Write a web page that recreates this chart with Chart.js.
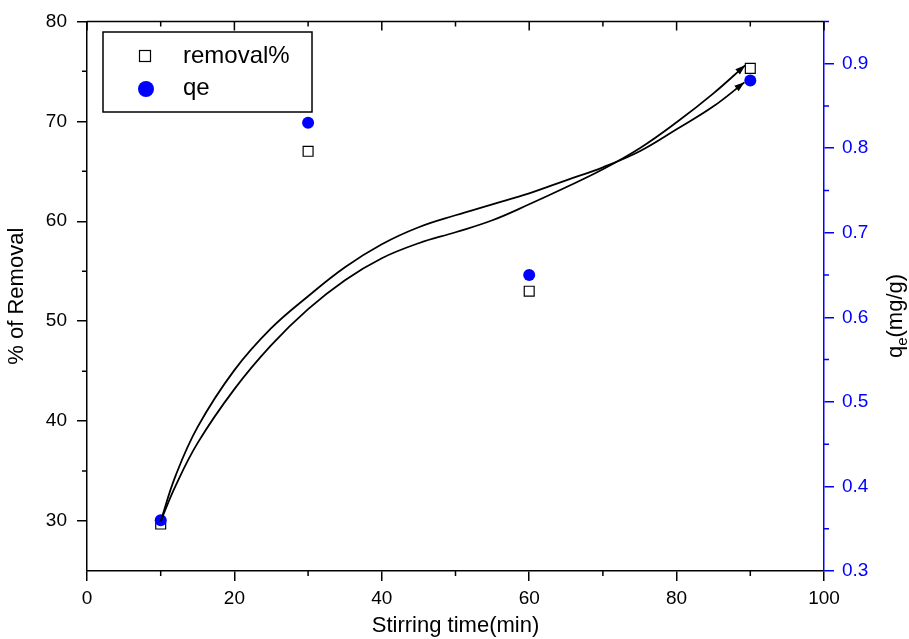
<!DOCTYPE html>
<html>
<head>
<meta charset="utf-8">
<script src="https://cdn.jsdelivr.net/npm/chart.js@4.4.1/dist/chart.umd.min.js"></script>
<style>
  html, body { margin: 0; padding: 0; background: #fff; }
</style>
</head>
<body>
<canvas id="chart" width="909" height="639"></canvas>
<script>
// measured points
const times = [10, 30, 60, 90];
const removal = [29.7, 67, 53, 75.3];
const qe = [0.36, 0.83, 0.65, 0.88];

// the two hand drawn arrows (left axis units)
const arrowToQeX = [10, 12, 15, 20, 25, 30, 35, 40, 45, 50, 55, 60, 65, 70, 75, 80, 85, 89.2];
const arrowToQeY = [30, 34.5, 39.4, 45.1, 49.3, 52.5, 55.4, 57.7, 59.4, 60.6, 61.7, 62.8, 64.1, 65.4, 67.0, 69.2, 71.5, 73.9];
const arrowToRemX = [10, 12, 15, 20, 25, 30, 35, 40, 45, 50, 55, 60, 65, 70, 75, 80, 85, 89.3];
const arrowToRemY = [30, 33.5, 37.8, 43.2, 47.6, 51.2, 54.1, 56.3, 57.8, 58.9, 60.1, 61.7, 63.4, 65.2, 67.3, 69.9, 72.8, 75.6];

const xTicks = [0, 20, 40, 60, 80, 100];
const xMinor = [10, 30, 50, 70, 90];
const leftTicks = [30, 40, 50, 60, 70, 80];
const leftMinor = [35, 45, 55, 65, 75];
const rightTicks = [0.3, 0.4, 0.5, 0.6, 0.7, 0.8, 0.9];
const rightMinor = [0.35, 0.45, 0.55, 0.65, 0.75, 0.85, 0.95];

const FONT = '"Liberation Sans", Arial, sans-serif';
const BLUE = '#0000ff';

function toPoints(xs, ys) {
    return xs.map((x, i) => ({ x: x, y: ys[i] }));
}

// minor ticks, top axis, arrow heads, legend and right title
const extrasPlugin = {
    id: 'extras',
    afterDraw(chart) {
        const ctx = chart.ctx;
        const ca = chart.chartArea;
        const sx = chart.scales.x, sy = chart.scales.y, sr = chart.scales.y1;
        ctx.save();
        ctx.lineWidth = 1.5;
        ctx.strokeStyle = '#000';

        // top axis line with inward ticks
        ctx.beginPath();
        ctx.moveTo(ca.left, ca.top);
        ctx.lineTo(ca.right, ca.top);
        xTicks.forEach(v => {
            const px = sx.getPixelForValue(v);
            ctx.moveTo(px, ca.top); ctx.lineTo(px, ca.top + 9);
        });
        xMinor.forEach(v => {
            const px = sx.getPixelForValue(v);
            ctx.moveTo(px, ca.top); ctx.lineTo(px, ca.top + 5);
            // bottom minor, outward
            ctx.moveTo(px, ca.bottom); ctx.lineTo(px, ca.bottom + 5);
        });
        leftMinor.forEach(v => {
            const py = sy.getPixelForValue(v);
            ctx.moveTo(ca.left, py); ctx.lineTo(ca.left - 5, py);
        });
        ctx.stroke();

        ctx.strokeStyle = BLUE;
        ctx.beginPath();
        rightMinor.forEach(v => {
            const py = sr.getPixelForValue(v);
            ctx.moveTo(ca.right, py); ctx.lineTo(ca.right + 5, py);
        });
        ctx.stroke();

        // arrow heads at the end of each curve
        ctx.fillStyle = '#000';
        [[arrowToQeX, arrowToQeY], [arrowToRemX, arrowToRemY]].forEach(([xs, ys]) => {
            const n = xs.length;
            const x1 = sx.getPixelForValue(xs[n - 1]), y1 = sy.getPixelForValue(ys[n - 1]);
            const x0 = sx.getPixelForValue(xs[n - 2]), y0 = sy.getPixelForValue(ys[n - 2]);
            const a = Math.atan2(y1 - y0, x1 - x0);
            const len = 10, w = 3.5;
            ctx.beginPath();
            ctx.moveTo(x1, y1);
            ctx.lineTo(x1 - len * Math.cos(a) + w * Math.sin(a), y1 - len * Math.sin(a) - w * Math.cos(a));
            ctx.lineTo(x1 - len * Math.cos(a) - w * Math.sin(a), y1 - len * Math.sin(a) + w * Math.cos(a));
            ctx.closePath();
            ctx.fill();
        });

        // legend
        ctx.strokeStyle = '#000';
        ctx.lineWidth = 1.5;
        ctx.fillStyle = '#fff';
        ctx.fillRect(103, 32, 209, 80);
        ctx.strokeRect(103, 32, 209, 80);
        ctx.lineWidth = 1.2;
        ctx.strokeRect(139.5, 50.5, 11, 11);
        ctx.fillStyle = BLUE;
        ctx.beginPath();
        ctx.arc(146, 89, 8, 0, Math.PI * 2);
        ctx.fill();
        ctx.fillStyle = '#000';
        ctx.font = '24px ' + FONT;
        ctx.textBaseline = 'middle';
        ctx.textAlign = 'left';
        ctx.fillText('removal%', 183, 56);
        ctx.fillText('qe', 183, 88);

        // right axis title q_e(mg/g)
        ctx.translate(895, 316);
        ctx.rotate(-Math.PI / 2);
        ctx.font = '22px ' + FONT;
        const wq = ctx.measureText('q').width;
        ctx.font = '15px ' + FONT;
        const we = ctx.measureText('e').width;
        ctx.font = '22px ' + FONT;
        const wr = ctx.measureText('(mg/g)').width;
        let x = -(wq + we + wr) / 2;
        ctx.textBaseline = 'alphabetic';
        ctx.fillText('q', x, 7);
        x += wq;
        ctx.font = '15px ' + FONT;
        ctx.fillText('e', x, 12);
        x += we;
        ctx.font = '22px ' + FONT;
        ctx.fillText('(mg/g)', x, 7);
        ctx.restore();
    }
};

function fixTicks(list) {
    return function(scale) {
        scale.ticks = list.map(v => ({ value: v }));
    };
}

new Chart(document.getElementById('chart'), {
    type: 'scatter',
    data: {
        datasets: [
            {
                label: 'arrow qe',
                type: 'line',
                data: toPoints(arrowToQeX, arrowToQeY),
                yAxisID: 'y',
                borderColor: '#000',
                borderWidth: 1.8,
                pointRadius: 0,
                tension: 0.4,
                fill: false,
                order: 0
            },
            {
                label: 'arrow removal',
                type: 'line',
                data: toPoints(arrowToRemX, arrowToRemY),
                yAxisID: 'y',
                borderColor: '#000',
                borderWidth: 1.8,
                pointRadius: 0,
                tension: 0.4,
                fill: false,
                order: 0
            },
            {
                label: 'qe',
                data: toPoints(times, qe),
                yAxisID: 'y1',
                pointStyle: 'circle',
                pointRadius: 6,
                backgroundColor: BLUE,
                borderColor: BLUE,
                borderWidth: 0,
                order: 1
            },
            {
                label: 'removal%',
                data: toPoints(times, removal),
                yAxisID: 'y',
                pointStyle: 'rect',
                pointRadius: 7,
                backgroundColor: '#fff',
                borderColor: '#000',
                borderWidth: 1.2,
                order: 2
            }
        ]
    },
    options: {
        responsive: false,
        animation: false,
        devicePixelRatio: 1,
        layout: { padding: { top: 20, bottom: 0, left: 0, right: 0 } },
        plugins: {
            legend: { display: false },
            tooltip: { enabled: false }
        },
        scales: {
            x: {
                type: 'linear',
                min: 0, max: 100,
                afterBuildTicks: fixTicks(xTicks),
                afterFit(scale) { scale.height = 68; },
                border: { color: '#000', width: 1.5 },
                grid: { drawOnChartArea: false, tickLength: 10, color: '#000', lineWidth: 1.5 },
                ticks: { color: '#000', font: { family: FONT, size: 19 }, padding: 6, maxRotation: 0 },
                title: { display: true, text: 'Stirring time(min)', color: '#000', font: { family: FONT, size: 22 }, padding: 0 }
            },
            y: {
                type: 'linear',
                position: 'left',
                min: 25, max: 80,
                afterBuildTicks: fixTicks(leftTicks),
                afterFit(scale) { scale.width = 87; },
                border: { color: '#000', width: 1.5 },
                grid: { drawOnChartArea: false, tickLength: 10, color: '#000', lineWidth: 1.5 },
                ticks: { color: '#000', font: { family: FONT, size: 19 }, padding: 10 },
                title: { display: true, text: '% of Removal', color: '#000', font: { family: FONT, size: 22 }, padding: { top: 4, bottom: 0 } }
            },
            y1: {
                type: 'linear',
                position: 'right',
                min: 0.3, max: 0.95,
                afterBuildTicks: fixTicks(rightTicks),
                afterFit(scale) { scale.width = 85; },
                border: { color: BLUE, width: 1.5 },
                grid: { drawOnChartArea: false, tickLength: 10, color: BLUE, lineWidth: 1.5 },
                ticks: { color: BLUE, font: { family: FONT, size: 19 }, padding: 8,
                    callback: v => v.toFixed(1) }
            }
        }
    },
    plugins: [extrasPlugin]
});
</script>
</body>
</html>
